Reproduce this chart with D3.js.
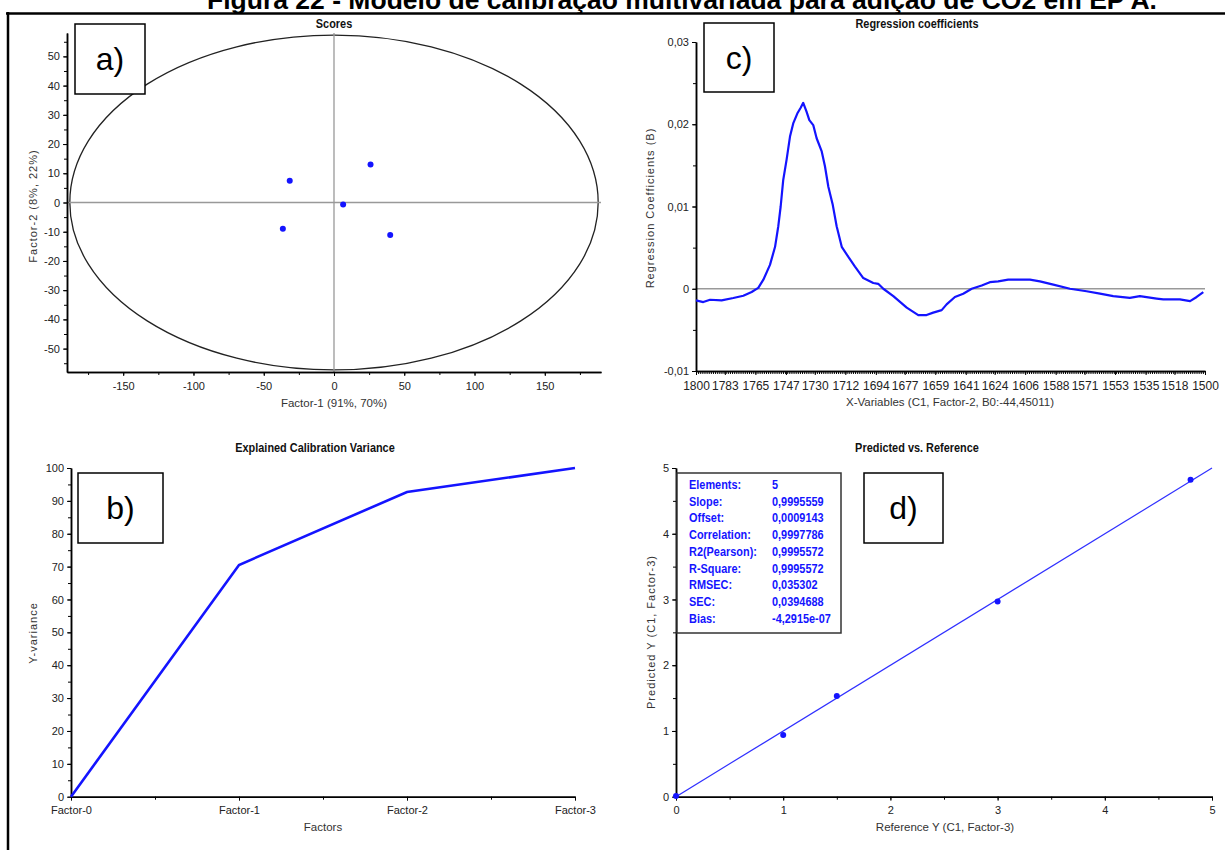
<!DOCTYPE html>
<html>
<head>
<meta charset="utf-8">
<script src="https://cdn.jsdelivr.net/npm/d3@7"></script>
<style>
body { margin: 0; background: #fff; }
svg { display: block; font-family: "Liberation Sans", Arial, sans-serif; }
.axis path, .axis line { stroke: #000; }
.axis path { stroke-width: 1.5px; }
.axis text { font-size: 11px; fill: #222; font-family: "Liberation Sans", Arial, sans-serif; }
.axis.wide text { font-size: 12px; }
</style>
</head>
<body>
<script>
var figTitle = "Figura 22 - Modelo de calibração multivariada para adição de CO2 em EP A.";

// a) scores
var scoreF1 = [-31.5, 6.5, 26.0, -36.4, 40.0];
var scoreF2 = [7.4, -0.7, 13.0, -9.0, -11.1];
var ellipseRadii = [188, 57.3];

// b) explained calibration variance
var factors = ["Factor-0", "Factor-1", "Factor-2", "Factor-3"];
var yVariance = [0, 70.5, 92.7, 100];

// c) regression coefficients
var xVariables = [1800, 1795.7, 1791.7, 1784.9, 1778.0, 1772.1, 1767.2, 1763.3, 1760.3, 1756.4,
    1753.4, 1751.5, 1750.1, 1748.6, 1746.6, 1744.6, 1742.7, 1740.3, 1738.3, 1736.8,
    1734.8, 1733.2, 1730.9, 1728.9, 1725.9, 1724.0, 1722.0, 1719.4, 1717.1, 1714.1,
    1710.3, 1706.3, 1701.4, 1695.5, 1692.6, 1689.6, 1683.7, 1675.8, 1669.0, 1664.1,
    1660.2, 1655.2, 1652.3, 1647.4, 1642.5, 1637.5, 1631.6, 1626.8, 1621.9, 1616.0,
    1603.2, 1597.3, 1589.4, 1579.6, 1569.8, 1561.9, 1554.1, 1544.3, 1538.4, 1528.5,
    1524.6, 1514.8, 1508.8, 1504.9, 1501.0];
var coefB = [-0.00142, -0.00162, -0.00134, -0.00142, -0.00113, -0.00085, -0.0004, 0.0001, 0.0011, 0.0029,
    0.0051, 0.0076, 0.0100, 0.0132, 0.0157, 0.0185, 0.0201, 0.0213, 0.0220, 0.0226,
    0.0215, 0.0205, 0.0199, 0.0183, 0.0167, 0.0149, 0.0124, 0.0102, 0.0076, 0.0051,
    0.0039, 0.0027, 0.0013, 0.0007, 0.0006, 0.0000, -0.0009, -0.0023, -0.0032, -0.0032,
    -0.0029, -0.0026, -0.0019, -0.0010, -0.0006, 0.0000, 0.0004, 0.0008, 0.0009, 0.0011,
    0.0011, 0.0009, 0.0005, 0.0000, -0.0003, -0.0006, -0.0009, -0.0011, -0.0009, -0.0012,
    -0.0013, -0.0013, -0.0015, -0.0010, -0.0004];
var xVarLabels = [1800, 1783, 1765, 1747, 1730, 1712, 1694, 1677, 1659, 1641, 1624, 1606, 1588, 1571, 1553, 1535, 1518, 1500];

// d) predicted vs reference
var referenceY = [0, 1, 1.5, 3, 4.8];
var predictedY = [0.01, 0.94, 1.53, 2.97, 4.82];
var statNames = ["Elements:", "Slope:", "Offset:", "Correlation:", "R2(Pearson):", "R-Square:", "RMSEC:", "SEC:", "Bias:"];
var statValues = ["5", "0,9995559", "0,0009143", "0,9997786", "0,9995572", "0,9995572", "0,035302", "0,0394688", "-4,2915e-07"];
var slope = 0.9995559, offset = 0.0009143;

var blue = "#1414ff";

var locale = d3.formatLocale({decimal: ",", thousands: ".", grouping: [3], currency: ["", ""], minus: "-"});
var fmtInt = locale.format("d");
var fmt2 = function (d) { return d === 0 ? "0" : locale.format(".2f")(d); };

var svg = d3.select("body").append("svg")
    .attr("width", 1225)
    .attr("height", 850);

svg.append("rect").attr("width", 1225).attr("height", 850).attr("fill", "#fff");

// titre de la figure (coupé en haut)
svg.append("text")
    .attr("x", 207)
    .attr("y", 9)
    .style("font-size", "26.5px")
    .style("font-weight", "bold")
    .text(figTitle);

// cadre
svg.append("line").attr("x1", 6).attr("x2", 1225).attr("y1", 13.5).attr("y2", 13.5)
    .style("stroke", "#000").style("stroke-width", 2.5);
svg.append("line").attr("x1", 8).attr("x2", 8).attr("y1", 12).attr("y2", 850)
    .style("stroke", "#000").style("stroke-width", 2.5);

function condensed(x, y, txt, size, fill, anchor) {
    return svg.append("text")
        .attr("transform", "translate(" + x + "," + y + ") scale(0.84,1)")
        .attr("text-anchor", anchor || "middle")
        .style("font-size", size + "px")
        .style("font-weight", "bold")
        .style("fill", fill)
        .text(txt);
}

function axisPair(orient, scale, majorVals, minorVals, fmt, tx, ty, cls) {
    var maker = orient === "bottom" ? d3.axisBottom : d3.axisLeft;
    svg.append("g")
        .attr("class", "axis")
        .attr("transform", "translate(" + tx + "," + ty + ")")
        .call(maker(scale).tickValues(minorVals).tickSize(3).tickSizeOuter(0).tickFormat(""));
    svg.append("g")
        .attr("class", "axis " + (cls || ""))
        .attr("transform", "translate(" + tx + "," + ty + ")")
        .call(maker(scale).tickValues(majorVals).tickSize(4).tickSizeOuter(0)
            .tickPadding(orient === "bottom" ? 6 : 3).tickFormat(fmt));
}

function yLabel(x, y, txt) {
    svg.append("text")
        .attr("transform", "translate(" + x + "," + y + ") rotate(-90)")
        .attr("text-anchor", "middle")
        .style("font-size", "11px")
        .style("letter-spacing", "1px")
        .style("fill", "#333")
        .text(txt);
}

function xLabel(x, y, txt) {
    svg.append("text")
        .attr("x", x)
        .attr("y", y)
        .attr("text-anchor", "middle")
        .style("font-size", "11.5px")
        .style("fill", "#333")
        .text(txt);
}

function tagBox(x, y, w, h, txt) {
    svg.append("rect")
        .attr("x", x).attr("y", y).attr("width", w).attr("height", h)
        .style("fill", "#fff").style("stroke", "#000").style("stroke-width", 1.5);
    svg.append("text")
        .attr("x", x + w / 2)
        .attr("y", y + h / 2 + 11)
        .attr("text-anchor", "middle")
        .style("font-size", "32px")
        .text(txt);
}

//---------- a) Scores
var xA = d3.scaleLinear().domain([-190, 190]).range([67, 601]);
var yA = d3.scaleLinear().domain([-58, 58]).range([372, 33]);

condensed(334, 28, "Scores", 13, "#111");

svg.append("ellipse")
    .attr("cx", xA(0))
    .attr("cy", yA(0))
    .attr("rx", xA(ellipseRadii[0]) - xA(0))
    .attr("ry", yA(0) - yA(ellipseRadii[1]))
    .style("fill", "none")
    .style("stroke", "#222")
    .style("stroke-width", 1.3);

svg.append("line").attr("x1", xA(0)).attr("x2", xA(0)).attr("y1", yA(58)).attr("y2", yA(-58))
    .style("stroke", "#999").style("stroke-width", 1.3);
svg.append("line").attr("x1", xA(-190)).attr("x2", xA(190)).attr("y1", yA(0)).attr("y2", yA(0))
    .style("stroke", "#999").style("stroke-width", 1.3);

axisPair("bottom", xA, d3.range(-150, 151, 50), d3.range(-175, 176, 25), fmtInt, 0, 372);
axisPair("left", yA, d3.range(-50, 51, 10), d3.range(-55, 56, 5), fmtInt, 67, 0);

svg.append("g").selectAll("circle")
    .data(scoreF1)
    .enter().append("circle")
    .attr("r", 3)
    .style("fill", blue)
    .attr("cx", function (d) { return xA(d); })
    .attr("cy", function (d, i) { return yA(scoreF2[i]); });

xLabel(334, 407, "Factor-1 (91%, 70%)");
yLabel(37, 206, "Factor-2 (8%, 22%)");
tagBox(75, 24, 70, 70, "a)");

//---------- b) Explained Calibration Variance
var xB = d3.scaleLinear().domain([0, factors.length - 1]).range([71, 575]);
var yB = d3.scaleLinear().domain([0, 100]).range([796.7, 468]);

condensed(315, 452, "Explained Calibration Variance", 13, "#111");

axisPair("bottom", xB, d3.range(0, 4), [0.5, 1.5, 2.5], function (d) { return factors[d]; }, 0, 796.7);
axisPair("left", yB, d3.range(0, 101, 10), d3.range(0, 101, 5), fmtInt, 71, 0);

var varLine = d3.line()
    .x(function (d, i) { return xB(i); })
    .y(function (d) { return yB(d); });

svg.append("path")
    .attr("d", varLine(yVariance))
    .style("fill", "none")
    .style("stroke", blue)
    .style("stroke-width", 2.6);

xLabel(323, 831, "Factors");
yLabel(37, 633, "Y-variance");
tagBox(78, 473, 85, 70, "b)");

//---------- c) Regression coefficients
var xC = d3.scaleLinear().domain([1800, 1500]).range([696, 1205]);
var yC = d3.scaleLinear().domain([-0.01, 0.03]).range([371, 42]);

condensed(917, 28, "Regression coefficients", 13, "#111");

svg.append("line").attr("x1", xC(1800)).attr("x2", xC(1500)).attr("y1", yC(0)).attr("y2", yC(0))
    .style("stroke", "#999").style("stroke-width", 1.5);

axisPair("bottom", xC, xVarLabels, d3.range(1500, 1800.01, 1.25), function (d) { return d; }, 0, 371, "wide");
axisPair("left", yC, [-0.01, 0, 0.01, 0.02, 0.03], d3.range(-0.01, 0.0301, 0.005), fmt2, 696, 0);

var coefLine = d3.line()
    .x(function (d) { return xC(d); })
    .y(function (d, i) { return yC(coefB[i]); });

svg.append("path")
    .attr("d", coefLine(xVariables))
    .style("fill", "none")
    .style("stroke", blue)
    .style("stroke-width", 2.2)
    .style("stroke-linejoin", "round");

xLabel(950, 406, "X-Variables (C1, Factor-2, B0:-44,45011)");
yLabel(654, 208, "Regression Coefficients (B)");
tagBox(704, 23, 70, 69, "c)");

//---------- d) Predicted vs. Reference
var xD = d3.scaleLinear().domain([0, 5]).range([676, 1212]);
var yD = d3.scaleLinear().domain([0, 5]).range([796.7, 468]);

condensed(917, 452, "Predicted vs. Reference", 13, "#111");

axisPair("bottom", xD, d3.range(0, 6), d3.range(0, 5.01, 0.5), fmtInt, 0, 796.7);
axisPair("left", yD, d3.range(0, 6), d3.range(0, 5.01, 0.5), fmtInt, 676, 0);

// droite de régression
svg.append("line")
    .attr("x1", xD(0)).attr("y1", yD(offset))
    .attr("x2", xD(5)).attr("y2", yD(5 * slope + offset))
    .style("stroke", "#3030ff")
    .style("stroke-width", 1.2);

svg.append("g").selectAll("circle")
    .data(referenceY)
    .enter().append("circle")
    .attr("r", 3)
    .style("fill", blue)
    .attr("cx", function (d) { return xD(d); })
    .attr("cy", function (d, i) { return yD(predictedY[i]); });

// boite des statistiques
svg.append("rect")
    .attr("x", 677).attr("y", 473).attr("width", 164).attr("height", 160)
    .style("fill", "#fff").style("stroke", "#333").style("stroke-width", 1.5);

statNames.forEach(function (name, i) {
    condensed(689, 489 + i * 16.7, name, 13, blue, "start");
    condensed(772, 489 + i * 16.7, statValues[i], 13, blue, "start");
});

xLabel(945, 831, "Reference Y (C1, Factor-3)");
yLabel(655, 632, "Predicted Y (C1, Factor-3)");
tagBox(864, 473, 79, 70, "d)");
</script>
</body>
</html>
